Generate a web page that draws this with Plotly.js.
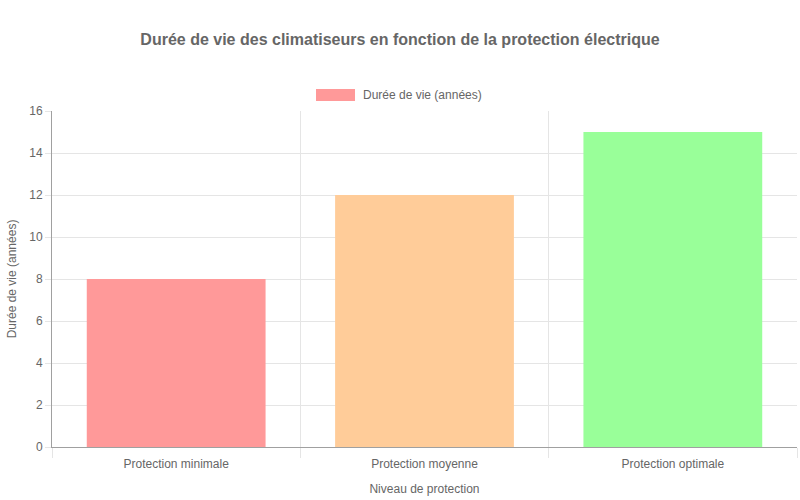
<!DOCTYPE html>
<html>
<head>
<meta charset="utf-8">
<script src="https://cdn.plot.ly/plotly-3.0.1.min.js"></script>
<style>
  html, body { margin: 0; padding: 0; background: #ffffff; }
  #chart { width: 800px; height: 500px; }
</style>
</head>
<body>
<div id="chart"></div>
<script>
const categories = ["Protection minimale", "Protection moyenne", "Protection optimale"];
const lifetimeYears = [8, 12, 15];
const barColors = ["#ff9999", "#ffcc99", "#99ff99"];
const seriesName = "Durée de vie (années)";

const THEME = {
  ink: "#666666",
  grid: "#e5e5e5",
  axis: "#a0a0a0",
  fontFamily: "\"Liberation Sans\", Arial, Helvetica, sans-serif",
};

const trace = {
  type: "bar",
  x: categories,
  y: lifetimeYears,
  name: seriesName,
  width: 0.72,
  marker: { color: barColors, line: { width: 0 } },
  showlegend: false,
  hovertemplate: "%{x}<br>%{y} ans<extra></extra>",
};

const layout = {
  width: 800,
  height: 500,
  paper_bgcolor: "#ffffff",
  plot_bgcolor: "#ffffff",
  font: { family: THEME.fontFamily, color: THEME.ink, size: 12 },
  margin: { l: 52, r: 3, t: 111, b: 53 },
  title: {
    text: "<b>Durée de vie des climatiseurs en fonction de la protection électrique</b>",
    font: { size: 16, color: THEME.ink },
    x: 0.5,
    xanchor: "center",
    y: 1 - 39 / 500,
    yanchor: "middle",
  },
  xaxis: {
    type: "category",
    tickson: "boundaries",
    ticks: "outside",
    ticklen: 10,
    tickcolor: THEME.grid,
    ticklabelstandoff: 6,
    showgrid: true,
    gridcolor: THEME.grid,
    showline: true,
    linecolor: THEME.axis,
    mirror: false,
    tickfont: { size: 12, color: THEME.ink },
    title: { text: "Niveau de protection", font: { size: 12, color: THEME.ink }, standoff: 14 },
  },
  yaxis: {
    range: [0, 16],
    dtick: 2,
    ticks: "outside",
    ticklen: 6,
    tickcolor: THEME.grid,
    showgrid: true,
    gridcolor: THEME.grid,
    zeroline: false,
    showline: true,
    linecolor: THEME.axis,
    tickfont: { size: 12, color: THEME.ink },
    title: { text: "Durée de vie (années)", font: { size: 12, color: THEME.ink }, standoff: 10 },
  },
  shapes: [
    {
      type: "rect",
      xref: "paper",
      yref: "paper",
      x0: (316 - 52) / 745,
      x1: (355 - 52) / 745,
      y0: (447 - 101) / 336,
      y1: (447 - 89) / 336,
      fillcolor: barColors[0],
      line: { width: 0 },
    },
  ],
  annotations: [
    {
      xref: "paper",
      yref: "paper",
      x: (361 - 52) / 745,
      y: (447 - 95) / 336,
      xanchor: "left",
      yanchor: "middle",
      text: seriesName,
      showarrow: false,
      font: { size: 12, color: THEME.ink },
    },
  ],
};

Plotly.newPlot("chart", [trace], layout, { displayModeBar: false, responsive: false });
</script>
</body>
</html>
